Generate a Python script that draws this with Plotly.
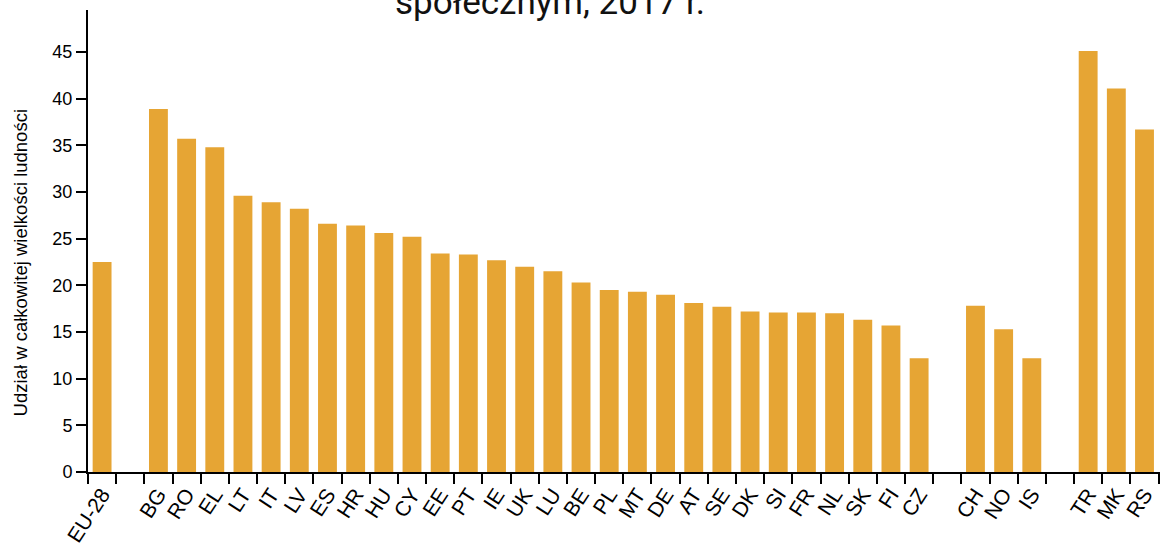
import plotly.graph_objects as go

# Data
eu_label = ["EU-28"]
eu_values = [22.5]

member_labels = ["BG", "RO", "EL", "LT", "IT", "LV", "ES", "HR", "HU", "CY", "EE", "PT",
                 "IE", "UK", "LU", "BE", "PL", "MT", "DE", "AT", "SE", "DK", "SI", "FR",
                 "NL", "SK", "FI", "CZ"]
member_values = [38.9, 35.7, 34.8, 29.6, 28.9, 28.2, 26.6, 26.4, 25.6, 25.2, 23.4, 23.3,
                 22.7, 22.0, 21.5, 20.3, 19.5, 19.3, 19.0, 18.1, 17.7, 17.2, 17.1, 17.1,
                 17.0, 16.3, 15.7, 12.2]

efta_labels = ["CH", "NO", "IS"]
efta_values = [17.8, 15.3, 12.2]

candidate_labels = ["TR", "MK", "RS"]
candidate_values = [45.1, 41.1, 36.7]

title_text = "Osoby zagrożone ubóstwem lub wykluczeniem<br>społecznym, 2017 r."
y_title = "Udział w całkowitej wielkości ludności"
y_ticks = [0, 5, 10, 15, 20, 25, 30, 35, 40, 45]

# Build category axis with empty separator slots between groups
groups = [(eu_label, eu_values), (member_labels, member_values),
          (efta_labels, efta_values), (candidate_labels, candidate_values)]
xs, ys = [], []
for i, (labs, vals) in enumerate(groups):
    if i > 0:
        xs.append(" " * i)
        ys.append(None)
    xs.extend(labs)
    ys.extend(vals)

bar_color = "#E6A534"

fig = go.Figure(go.Bar(x=xs, y=ys, marker=dict(color=bar_color, line=dict(width=0)),
                       hoverinfo="skip"))

fig.update_layout(
    width=1160, height=547,
    margin=dict(l=88, r=0, t=10, b=75, autoexpand=False),
    plot_bgcolor="white", paper_bgcolor="white",
    bargap=0.33,
    showlegend=False,
    font=dict(family="Liberation Sans, Arial, sans-serif", color="black"),
)

fig.update_xaxes(
    type="category", categoryorder="array", categoryarray=xs,
    range=[-0.5, len(xs) - 0.45],
    tickson="boundaries", ticks="outside", ticklen=10, tickwidth=2, tickcolor="black",
    showline=True, linecolor="black", linewidth=2,
    tickangle=-57, tickfont=dict(size=21, color="black"),
    showgrid=False, zeroline=False, automargin=False,
)
fig.update_yaxes(
    range=[0, 49.5], tickvals=y_ticks, ticktext=[str(t) for t in y_ticks],
    ticks="outside", ticklen=10, tickwidth=2, tickcolor="black",
    showline=True, linecolor="black", linewidth=2,
    tickfont=dict(size=18, color="black"),
    showgrid=False, zeroline=False, automargin=False,
)

fig.add_annotation(
    text=y_title, textangle=-90, showarrow=False,
    xref="paper", x=0, xanchor="center", xshift=-68,
    yref="paper", y=0.471, yanchor="middle", yshift=-9,
    font=dict(size=18.5, color="black", family="Liberation Sans, Arial, sans-serif"),
)
fig.add_annotation(
    text=title_text, showarrow=False,
    xref="paper", x=0.431, xanchor="center",
    yref="paper", y=1, yanchor="bottom", yshift=-15,
    font=dict(size=35, color="#111111", family="Roboto, sans-serif"),
)

fig.write_html(
    "out.html",
    config={"displayModeBar": False, "staticPlot": True},
    post_script="document.body.style.margin='0';document.body.style.overflow='hidden';",
)
